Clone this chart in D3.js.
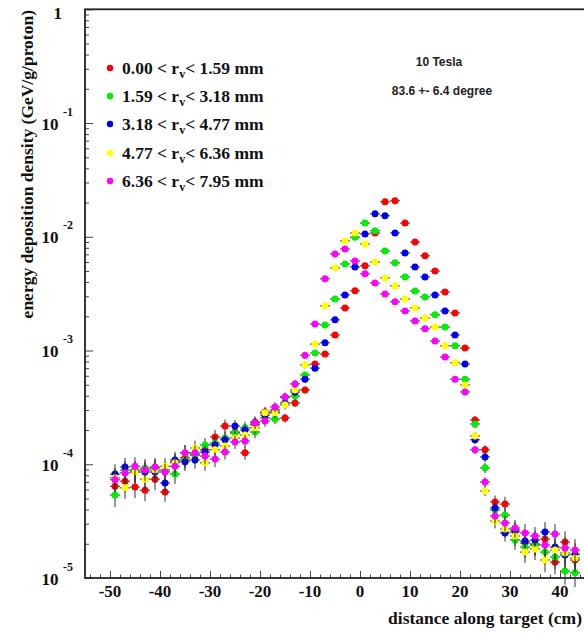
<!DOCTYPE html>
<html>
<head>
<meta charset="utf-8">
<script src="https://cdn.jsdelivr.net/npm/d3@7"></script>
<style>
html,body{margin:0;padding:0;background:#fff;}
svg{display:block;}
</style>
</head>
<body>
<svg id="chart" width="584" height="634"></svg>
<script>
// ---- data ----
const xBins = [-49,-47,-45,-43,-41,-39,-37,-35,-33,-31,-29,-27,-25,-23,-21,-19,-17,-15,-13,-11,
  -9,-7,-5,-3,-1,1,3,5,7,9,11,13,15,17,19,21,23,25,27,29,31,33,35,37,39,41,43];
const binHalfWidth = 1;

const seriesNames = ["0.00 < r|v|< 1.59 mm","1.59 < r|v|< 3.18 mm","3.18 < r|v|< 4.77 mm","4.77 < r|v|< 6.36 mm","6.36 < r|v|< 7.95 mm"];
const seriesColors = ["#ff0000","#00ee00","#0000ee","#ffff00","#ff00ff"];

const red = [6.4e-5,7.1e-5,6.3e-5,5.9e-5,7.4e-5,5.7e-5,1.05e-4,1.14e-4,1.21e-4,1.34e-4,1.74e-4,2.17e-4,1.92e-4,1.26e-4,
  2.35e-4,2.88e-4,3.0e-4,2.55e-4,3.46e-4,4.5e-4,
  7.6e-4,9.3e-4,1.37e-3,2.37e-3,3.35e-3,5.55e-3,1.08e-2,2.03e-2,2.07e-2,1.32e-2,9.0e-3,6.8e-3,5.0e-3,3.27e-3,2.14e-3,1.05e-3,
  2.45e-4,1.34e-4,4.66e-5,4.47e-5,2.54e-5,2.03e-5,1.99e-5,2.2e-5,1.38e-5,2.07e-5,1.44e-5];
const green = [5.37e-5,8.9e-5,8.55e-5,9.27e-5,9.27e-5,8.9e-5,8.2e-5,1.09e-4,1.21e-4,1.48e-4,1.54e-4,1.70e-4,1.88e-4,2.09e-4,
  1.92e-4,2.55e-4,2.5e-4,3.9e-4,3.98e-4,6.1e-4,
  9.5e-4,1.68e-3,2.84e-3,5.77e-3,9.9e-3,1.32e-2,1.13e-2,7.5e-3,5.9e-3,4.44e-3,3.34e-3,2.96e-3,2.06e-3,1.61e-3,1.1e-3,5.6e-4,
  2.26e-4,9.3e-5,3.96e-5,3.58e-5,2.16e-5,1.87e-5,1.95e-5,1.69e-5,1.53e-5,1.15e-5,1.11e-5];
const blue = [8.2e-5,9.46e-5,8.9e-5,8.55e-5,8.55e-5,6.84e-5,1.09e-4,1.05e-4,1.09e-4,1.28e-4,1.48e-4,1.64e-4,2.17e-4,2.0e-4,
  2.22e-4,2.71e-4,2.88e-4,3.46e-4,4.32e-4,5.6e-4,
  7.0e-4,1.17e-3,1.86e-3,3.08e-3,5.43e-3,1.06e-2,1.59e-2,1.53e-2,1.08e-2,7.2e-3,5.43e-3,4.44e-3,3.08e-3,2.23e-3,1.37e-3,7.6e-4,
  1.64e-4,1.16e-4,4.13e-5,2.49e-5,2.64e-5,2.11e-5,2.16e-5,2.54e-5,1.87e-5,1.59e-5,1.62e-5];
const yellow = [7.6e-5,6.2e-5,8.55e-5,7.4e-5,8.9e-5,9.6e-5,1.03e-4,1.26e-4,1.39e-4,1.03e-4,1.34e-4,1.45e-4,1.70e-4,1.81e-4,
  2.09e-4,2.83e-4,2.83e-4,3.33e-4,4.5e-4,7.46e-4,
  1.14e-3,2.47e-3,5.33e-3,9.2e-3,1.08e-2,8.66e-3,6.0e-3,4.35e-3,3.70e-3,2.84e-3,2.37e-3,1.93e-3,1.61e-3,1.1e-3,7.8e-4,4.98e-4,
  1.77e-4,5.82e-5,3.17e-5,2.7e-5,2.34e-5,1.69e-5,1.8e-5,1.44e-5,1.76e-5,1.66e-5,1.5e-5];
const magenta = [7.3e-5,8.38e-5,9.6e-5,8.9e-5,9.46e-5,8.55e-5,9.6e-5,1.26e-4,1.26e-4,1.18e-4,1.11e-4,1.28e-4,1.57e-4,1.6e-4,
  2.31e-4,2.4e-4,3.19e-4,3.9e-4,5.09e-4,9.1e-4,
  1.71e-3,4.27e-3,7.07e-3,7.8e-3,6.13e-3,4.72e-3,3.93e-3,3.14e-3,2.68e-3,2.23e-3,1.82e-3,1.55e-3,1.21e-3,8.77e-4,5.6e-4,4.32e-4,
  1.34e-4,6.98e-5,3.51e-5,3.05e-5,2.75e-5,2.49e-5,2.34e-5,1.95e-5,2.44e-5,1.84e-5,1.76e-5];
// relative vertical error per bin
const relErr = [0.22,0.2,0.2,0.2,0.2,0.18,0.18,0.17,0.16,0.15,0.15,0.14,0.13,0.13,
  0.12,0.11,0.1,0.09,0.08,0.07,
  0.05,0.04,0.03,0.02,0.02,0.02,0.02,0.02,0.02,0.02,0.02,0.02,0.03,0.03,0.04,0.05,
  0.08,0.1,0.14,0.16,0.18,0.2,0.2,0.22,0.22,0.24,0.25];

const xMajorTicks = [-50,-40,-30,-20,-10,0,10,20,30,40,50];
const xTickLabels = [-50,-40,-30,-20,-10,0,10,20,30,40];
const yDecadeExponents = [0,-1,-2,-3,-4,-5];
const annotations = ["10 Tesla","83.6 +- 6.4 degree"];
const xTitle = "distance along target (cm)";
const yTitle = "energy deposition density (GeV/g/proton)";

// ---- drawing ----
const allSeries = [red, green, blue, yellow, magenta];
const svg = d3.select("#chart");
svg.append("rect").attr("width",584).attr("height",634).attr("fill","#fff");

const L = 85, R = 635, T = 9.3, B = 578;
const x = d3.scaleLinear().domain([-55,55]).range([L,R]);
const y = d3.scaleLog().domain([1e-5,1]).range([B,T]);

const serif = "'Liberation Serif','Times New Roman',serif";
const sans = "'Liberation Sans',Arial,sans-serif";

// minor x ticks
const xMinor = d3.range(-54,55,2).filter(v => v % 10 !== 0);
const gx = svg.append("g").attr("transform",`translate(0,${B})`);
gx.call(d3.axisBottom(x).tickValues(xMinor).tickSize(-3.5).tickFormat(""));
gx.append("g").call(d3.axisBottom(x).tickValues(xMajorTicks).tickSize(-7).tickFormat(""));
gx.selectAll(".domain").remove();
gx.selectAll("line").attr("stroke","#444").attr("stroke-width",1);

// x tick labels
svg.append("g").selectAll("text").data(xTickLabels).join("text")
  .attr("x", d => x(d)).attr("y", 597)
  .attr("text-anchor","middle")
  .attr("font-family",serif).attr("font-weight","bold").attr("font-size",17)
  .attr("fill","#111")
  .text(d => d);

// y ticks (major + minor)
const yMinor = [];
for (let e = -5; e < 0; e++) for (let m = 2; m <= 9; m++) yMinor.push(m * Math.pow(10, e));
const gy = svg.append("g").attr("transform",`translate(${L},0)`);
gy.call(d3.axisLeft(y).tickValues(yMinor).tickSize(-4).tickFormat(""));
gy.append("g").call(d3.axisLeft(y).tickValues(yDecadeExponents.map(e => Math.pow(10,e))).tickSize(-8).tickFormat(""));
gy.selectAll(".domain").remove();
gy.selectAll("line").attr("stroke","#444").attr("stroke-width",1);

// y tick labels
const yl = svg.append("g").attr("font-family",serif).attr("font-weight","bold").attr("fill","#111");
yDecadeExponents.forEach(e => {
  const yy = y(Math.pow(10,e));
  if (e === 0) {
    yl.append("text").attr("x",62).attr("y",yy+9.5).attr("text-anchor","end").attr("font-size",17).text("1");
  } else {
    yl.append("text").attr("x",58.5).attr("y",yy+6.5).attr("text-anchor","end").attr("font-size",17).text("10");
    yl.append("text").attr("x",63).attr("y",yy-7.5).attr("text-anchor","start").attr("font-size",12).text(String(e));
  }
});

// frame
svg.append("rect").attr("x",L).attr("y",T).attr("width",R-L).attr("height",B-T)
  .attr("fill","none").attr("stroke","#222").attr("stroke-width",1.8);

// data
const plot = svg.append("g");
allSeries.forEach((vals, si) => {
  const g = plot.append("g");
  const pts = xBins.map((xb,i) => ({x:xb, v:vals[i], e:relErr[i]}));
  g.selectAll("line.h").data(pts).join("line").attr("class","h")
    .attr("x1", d => x(d.x - binHalfWidth)).attr("x2", d => x(d.x + binHalfWidth))
    .attr("y1", d => y(d.v)).attr("y2", d => y(d.v))
    .attr("stroke","#333").attr("stroke-width",1);
  g.selectAll("line.v").data(pts).join("line").attr("class","v")
    .attr("x1", d => x(d.x)).attr("x2", d => x(d.x))
    .attr("y1", d => y(d.v*(1+d.e))).attr("y2", d => y(d.v*(1-d.e)))
    .attr("stroke","#333").attr("stroke-width",1);
  g.selectAll("circle").data(pts).join("circle")
    .attr("cx", d => x(d.x)).attr("cy", d => y(d.v)).attr("r",3.5)
    .attr("fill", seriesColors[si]);
});

// legend
const legRows = [68,96,124,153,181];
const leg = svg.append("g");
seriesNames.forEach((name,i) => {
  leg.append("circle").attr("cx",110).attr("cy",legRows[i]).attr("r",3.2).attr("fill",seriesColors[i]);
  const parts = name.split("|");
  const t = leg.append("text").attr("x",122).attr("y",legRows[i]+6)
    .attr("font-family",serif).attr("font-weight","bold").attr("font-size",17.5).attr("fill","#111");
  t.append("tspan").text(parts[0]);
  t.append("tspan").attr("font-size",12).attr("dy",4).text(parts[1]);
  t.append("tspan").attr("dy",-4).text(parts[2]);
});

// annotations
svg.append("text").attr("x",439).attr("y",66).attr("text-anchor","middle")
  .attr("font-family",sans).attr("font-weight","bold").attr("font-size",12).attr("fill","#222").text(annotations[0]);
svg.append("text").attr("x",442).attr("y",95).attr("text-anchor","middle")
  .attr("font-family",sans).attr("font-weight","bold").attr("font-size",12).attr("fill","#222").text(annotations[1]);

// axis titles
svg.append("text").attr("x",582).attr("y",624).attr("text-anchor","end")
  .attr("font-family",serif).attr("font-weight","bold").attr("font-size",17.5).attr("fill","#111").text(xTitle);
svg.append("text").attr("transform","translate(33,10) rotate(-90)").attr("text-anchor","end")
  .attr("font-family",serif).attr("font-weight","bold").attr("font-size",17.5).attr("fill","#111").text(yTitle);
</script>
</body>
</html>
